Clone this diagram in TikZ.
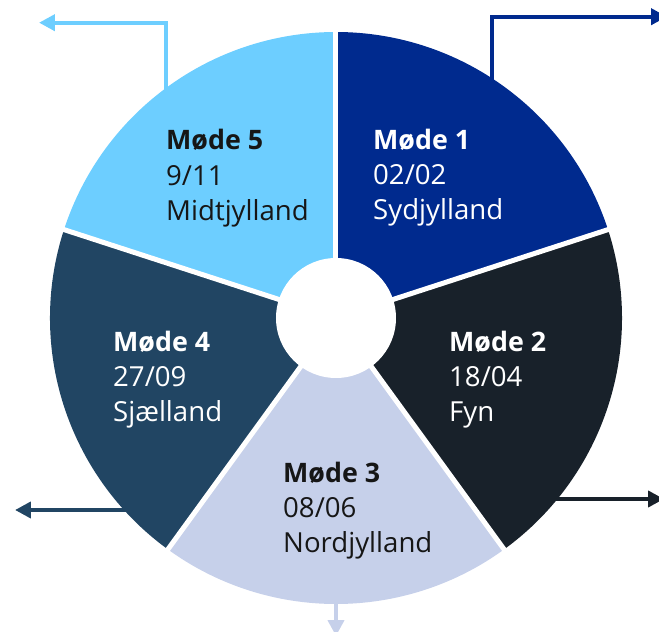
\documentclass[tikz,border=0pt]{standalone}
\usepackage{fontspec}
\setmainfont{Open Sans}
\usetikzlibrary{arrows.meta}
\definecolor{cA}{RGB}{0,42,142}
\definecolor{cB}{RGB}{24,33,42}
\definecolor{cC}{RGB}{198,208,234}
\definecolor{cD}{RGB}{33,69,99}
\definecolor{cE}{RGB}{109,206,255}
\definecolor{txtdark}{RGB}{22,22,22}
\tikzset{
  lbl/.style={anchor=base west, inner sep=0pt, font=\fontsize{27.6}{30}\selectfont},
  lblhead/.style={lbl, font=\fontsize{26.8}{30}\selectfont\bfseries},
  conn/.style={line width=4pt, -{Triangle[length=16pt,width=16pt]}},
  gap/.style={white, line width=5pt},
}
\begin{document}
\begin{tikzpicture}[x=1pt,y=1pt]
\useasboundingbox (-336,-314) rectangle (323,318);
% connector end points
\coordinate (s5) at (-170.3,218);
\coordinate (k5) at (-170.3,295.3);
\coordinate (e5) at (-297,295.3);
\coordinate (s1) at (156,228);
\coordinate (k1) at (156,301.3);
\coordinate (e1) at (331,301.3);
\coordinate (s2) at (204,-181);
\coordinate (e2) at (328,-181);
\coordinate (s4) at (-196,-192);
\coordinate (e4) at (-321,-192);
\coordinate (s3) at (0,-280);
\coordinate (e3) at (0,-318);
% connectors
\draw[conn, cE] (s5) -- (k5) -- (e5);
\draw[conn, cA] (s1) -- (k1) -- (e1);
\draw[conn, cB] (s2) -- (e2);
\draw[conn, cD] (s4) -- (e4);
\draw[conn, cC] (s3) -- (e3);
% sectors
\fill[cA] (0,0) -- (18:286) arc[start angle=18, end angle=90, radius=286] -- cycle;
\fill[cB] (0,0) -- (-54:286) arc[start angle=-54, end angle=18, radius=286] -- cycle;
\fill[cC] (0,0) -- (-126:286) arc[start angle=-126, end angle=-54, radius=286] -- cycle;
\fill[cD] (0,0) -- (162:286) arc[start angle=162, end angle=234, radius=286] -- cycle;
\fill[cE] (0,0) -- (90:286) arc[start angle=90, end angle=162, radius=286] -- cycle;
% gaps
\foreach \a in {90,18,-54,-126,162} \draw[gap] (0,0) -- (\a:292);
\fill[white] (0,0) circle (60);
% labels
\node[lblhead, text=txtdark] (m5a) at (-170,168) {Møde 5};
\node[lbl, text=txtdark] (m5b) at (-170,132) {9/11};
\node[lbl, text=txtdark] (m5c) at (-170,97) {Midtjylland};
\node[lblhead, text=white] (m1a) at (37,168) {Møde 1};
\node[lbl, text=white] (m1b) at (37,133) {02/02};
\node[lbl, text=white] (m1c) at (37,98) {Sydjylland};
\node[lblhead, text=white] (m4a) at (-223,-33) {Møde 4};
\node[lbl, text=white] (m4b) at (-223,-68) {27/09};
\node[lbl, text=white] (m4c) at (-223,-103) {Sjælland};
\node[lblhead, text=white] (m2a) at (113,-33) {Møde 2};
\node[lbl, text=white] (m2b) at (113,-68) {18/04};
\node[lbl, text=white] (m2c) at (113,-103) {Fyn};
\node[lblhead, text=txtdark] (m3a) at (-53,-164) {Møde 3};
\node[lbl, text=txtdark] (m3b) at (-53,-199) {08/06};
\node[lbl, text=txtdark] (m3c) at (-53,-234) {Nordjylland};
\end{tikzpicture}
\end{document}
